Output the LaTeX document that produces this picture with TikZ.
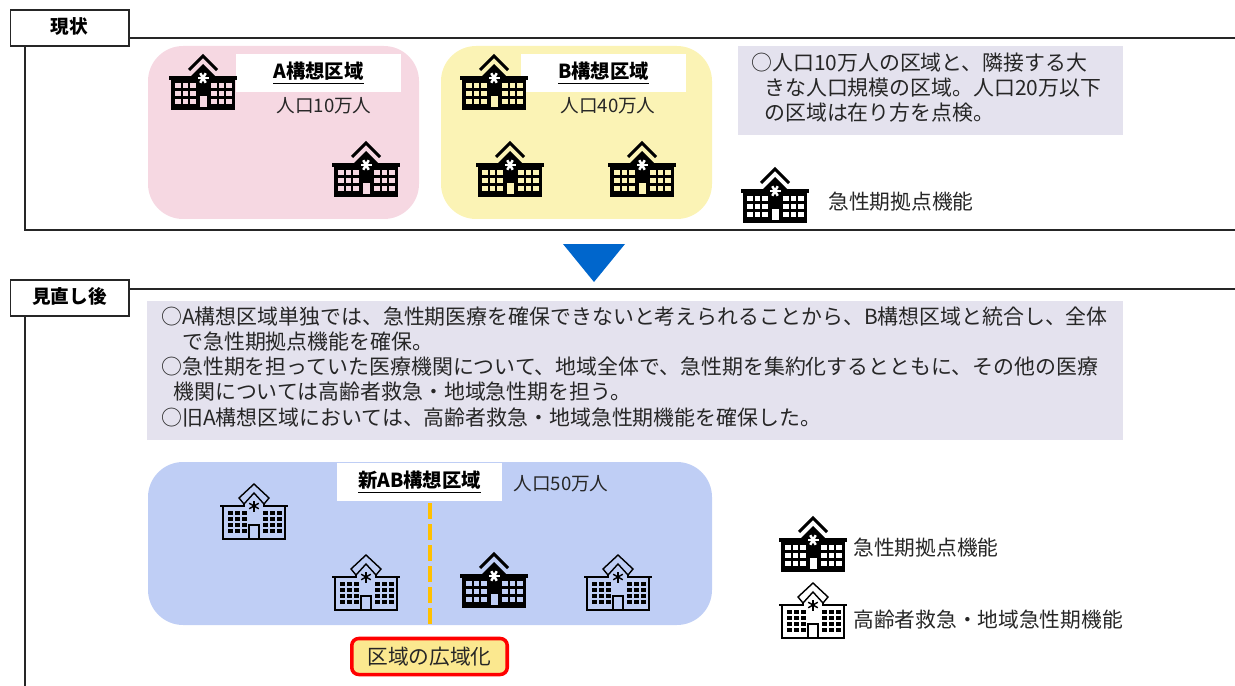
\documentclass[tikz,border=0pt]{standalone}
\usepackage{fontspec}
\setmainfont{Noto Sans CJK JP}
\definecolor{pinkarea}{HTML}{F6D8E2}
\definecolor{yellowarea}{HTML}{FBF3B5}
\definecolor{bluearea}{HTML}{BFCEF5}
\definecolor{greybox}{HTML}{E4E2EE}
\definecolor{arrowblue}{HTML}{0066CC}
\definecolor{dashorange}{HTML}{FFC000}
\definecolor{notefill}{HTML}{FBE88F}
\tikzset{
    frameline/.style={black!85, line width=1.2pt},
    headbox/.style={draw=black!85, line width=0.8pt, fill=white, font=\fontsize{10.6}{12}\selectfont\bfseries, minimum width=67.5pt, minimum height=20.5pt, inner sep=0pt, text height=9pt, text depth=2.6pt},
    areabox/.style={rounded corners=20pt},
    areatitle/.style={fill=white, font=\fontsize{11}{12}\selectfont\bfseries, minimum width=94pt, minimum height=22pt, inner sep=0pt},
    bodytext/.style={anchor=west, inner sep=0pt, font=\fontsize{11.9}{13}\selectfont, text=black!85},
    smalltext/.style={inner sep=0pt, font=\fontsize{10.6}{12}\selectfont, text=black!85},
    legendtext/.style={anchor=west, inner sep=0pt, font=\fontsize{11.8}{13}\selectfont, text=black!85},
    pics/hospblack/.style={code={
        \draw[line width=1.7pt] (-14,15) -- (0,1) -- (14,15);
        \fill (-12,21) -- (0,9) -- (12,21) -- cycle;
        \fill (-34,21) rectangle (34,25);
        \fill (-32,25) rectangle (32,55);
        \foreach \a in {0,60,120}
            \draw[white, line width=1.4pt] ($(0,23)+(\a:5.5)$) -- ($(0,23)+(\a+180:5.5)$);
        \foreach \r in {28,36,44}
            \foreach \c in {-28,-20.5,-13,8,15.5,23}
                \fill[#1] (\c,\r) rectangle ++(5.5,5);
        \fill[#1] (-3.5,41) rectangle (3.5,52);
    }},
    pics/hospwhite/.style={code={
        \draw[line width=0.8pt] (-10,20) -- (-15,14) -- (0,0) -- (15,14) -- (10,20) -- (0,9) -- cycle;
        \draw[line width=0.8pt] (-10,20) -- (-10,22) -- (-34,22) (10,20) -- (10,22) -- (34,22);
        \draw[line width=0.8pt] (-31,22) -- (-31,55) -- (31,55) -- (31,22);
        \draw[line width=0.8pt] (-5,55) -- (-5,41) -- (5,41) -- (5,55);
        \foreach \a in {0,60,120}
            \draw[line width=0.8pt] ($(0,22)+(\a+90:5.5)$) -- ($(0,22)+(\a+270:5.5)$);
        \foreach \r in {27,33,39,45}
            \foreach \c in {-26,-19,-12,9,16,23}
                \fill (\c,\r) rectangle ++(4.5,4);
    }},
}
\usetikzlibrary{calc}
\begin{document}
\begin{tikzpicture}[x=0.02cm, y=-0.02cm]
    \useasboundingbox (0,0) rectangle (1235,686);
    % First section
    \draw[frameline] (129,38) -- (1235,38);
    \draw[frameline] (25,46) -- (25,230) -- (1235,230);
    \node[headbox] (headnow) at (69.5,28) {現状};
    \fill[pinkarea, areabox] (148,46) rectangle (419,219);
    \fill[yellowarea, areabox] (441,46) rectangle (712,219);
    \node[areatitle] (titlea) at (318.5,73) {\underline{A構想区域}};
    \node[areatitle] (titleb) at (603.5,73) {\underline{B構想区域}};
    \node[smalltext] (popa) at (324,106) {人口10万人};
    \node[smalltext] (popb) at (608,106) {人口40万人};
    \pic at (203,55) {hospblack=pinkarea};
    \pic at (366,142) {hospblack=pinkarea};
    \pic at (494,55) {hospblack=yellowarea};
    \pic at (510,142) {hospblack=yellowarea};
    \pic at (642,142) {hospblack=yellowarea};
    \fill[greybox] (738,46) rectangle (1123,135);
    \node[bodytext] (nowa) at (751,63) {○人口10万人の区域と、隣接する大};
    \node[bodytext] (nowb) at (764,88) {きな人口規模の区域。人口20万以下};
    \node[bodytext] (nowc) at (764,113) {の区域は在り方を点検。};
    \pic at (775,168) {hospblack=white};
    \node[legendtext] (legendnow) at (828,202) {急性期拠点機能};
    % Arrow between sections
    \fill[arrowblue] (563,244) -- (625,244) -- (594,282) -- cycle;
    % Second section
    \draw[frameline] (129,289) -- (1235,289);
    \draw[frameline] (25,316) -- (25,686);
    \node[headbox] (headafter) at (69.5,298) {見直し後};
    \fill[greybox] (147,301) rectangle (1123,440);
    \node[bodytext] (aftera) at (161,317) {○A構想区域単独では、急性期医療を確保できないと考えられることから、B構想区域と統合し、全体};
    \node[bodytext] (afterb) at (182,342) {で急性期拠点機能を確保。};
    \node[bodytext] (afterc) at (161,367) {○急性期を担っていた医療機関について、地域全体で、急性期を集約化するとともに、その他の医療};
    \node[bodytext] (afterd) at (173,392) {機関については高齢者救急・地域急性期を担う。};
    \node[bodytext] (aftere) at (161,418) {○旧A構想区域においては、高齢者救急・地域急性期機能を確保した。};
    \fill[bluearea, areabox] (148,462) rectangle (712,625);
    \draw[dashorange, line width=2.8pt, dash pattern=on 9pt off 3pt] (430,503) -- (430,625);
    \node[areatitle] (titleab) at (419.5,482) {\underline{新AB構想区域}};
    \node[smalltext] (popab) at (561,484) {人口50万人};
    \pic at (254,484) {hospwhite};
    \pic at (366,555) {hospwhite};
    \pic at (494,553) {hospblack=bluearea};
    \pic at (618,555) {hospwhite};
    \node[draw=red, line width=2pt, fill=notefill, rounded corners=4pt, minimum width=88.5pt, minimum height=20.5pt, inner sep=0pt, font=\fontsize{11.8}{13}\selectfont, text=black!85] (wide) at (429.5,656.5) {区域の広域化};
    \pic at (813,517) {hospblack=white};
    \node[legendtext] (legendblack) at (853,548) {急性期拠点機能};
    \pic at (813,583) {hospwhite};
    \node[legendtext] (legendwhite) at (853,620) {高齢者救急・地域急性期機能};
\end{tikzpicture}
\end{document}
